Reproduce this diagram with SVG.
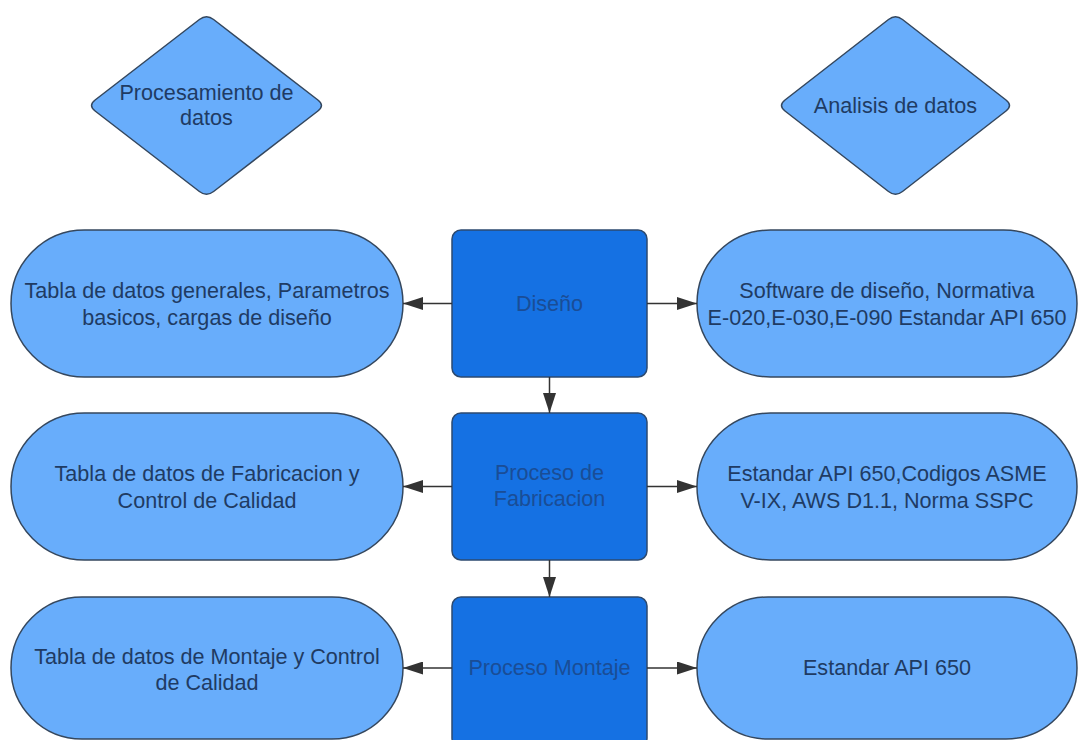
<svg xmlns="http://www.w3.org/2000/svg" width="1078" height="740" viewBox="0 0 1078 740">
  <style>
    .pill { fill: #68adfb; stroke: #34475e; stroke-width: 1.5; }
    .box { fill: #1571e3; stroke: #2c4a70; stroke-width: 1.5; }
    .dia { fill: #68adfb; stroke: #34475e; stroke-width: 1.5; }
    .t { font-family: "Liberation Sans", Arial, sans-serif; font-size: 21.6px; text-anchor: middle; fill: #1f3b63; }
    .tb { font-family: "Liberation Sans", Arial, sans-serif; font-size: 21.6px; text-anchor: middle; fill: #1a4d96; }
    .conn { stroke: #333333; stroke-width: 1.5; fill: none; marker-end: url(#arrow); }
  </style>
  <defs>
    <marker id="arrow" markerUnits="userSpaceOnUse" markerWidth="20" markerHeight="13" refX="20" refY="6.5" orient="auto">
      <path d="M0,0 L20,6.5 L0,13 Z" fill="#333333"/>
    </marker>
  </defs>
  <rect width="1078" height="740" fill="#ffffff"/>

  <!-- decision diamonds -->
  <g id="procesamiento">
    <path class="dia" d="M213.6,19.5 L317.9,100 Q325,105.5 317.9,111 L213.6,191.5 Q206.5,197 199.4,191.5 L95.1,111 Q88,105.5 95.1,100 L199.4,19.5 Q206.5,14 213.6,19.5 Z"/>
    <text class="t" x="206.5" y="100">Procesamiento de</text>
    <text class="t" x="206.5" y="125">datos</text>
  </g>
  <g id="analisis">
    <path class="dia" d="M902.5,19.5 L1006,100 Q1013,105.5 1006,111 L902.5,191.5 Q895.5,197 888.5,191.5 L785,111 Q778,105.5 785,100 L888.5,19.5 Q895.5,14 902.5,19.5 Z"/>
    <text class="t" x="895.5" y="113">Analisis de datos</text>
  </g>

  <!-- process boxes -->
  <g id="diseno">
    <rect class="box" x="452" y="230" width="195" height="147" rx="9"/>
    <text class="tb" x="549.5" y="311">Diseño</text>
  </g>
  <g id="fabricacion">
    <rect class="box" x="452" y="413" width="195" height="147" rx="9"/>
    <text class="tb" x="549.5" y="480">Proceso de</text>
    <text class="tb" x="549.5" y="506">Fabricacion</text>
  </g>
  <g id="montaje">
    <rect class="box" x="452" y="597" width="195" height="150" rx="9"/>
    <text class="tb" x="549.5" y="675">Proceso Montaje</text>
  </g>

  <!-- left data tables -->
  <g id="tabla-generales">
    <rect class="pill" x="11" y="230" width="392" height="147" rx="73.5"/>
    <text class="t" x="207" y="298">Tabla de datos generales, Parametros</text>
    <text class="t" x="207" y="325">basicos, cargas de diseño</text>
  </g>
  <g id="tabla-fabricacion">
    <rect class="pill" x="11" y="413" width="392" height="147" rx="73.5"/>
    <text class="t" x="207" y="481">Tabla de datos de Fabricacion y</text>
    <text class="t" x="207" y="508">Control de Calidad</text>
  </g>
  <g id="tabla-montaje">
    <rect class="pill" x="11" y="597" width="392" height="142" rx="71"/>
    <text class="t" x="207" y="664">Tabla de datos de Montaje y Control</text>
    <text class="t" x="207" y="690">de Calidad</text>
  </g>

  <!-- right references -->
  <g id="normas-diseno">
    <rect class="pill" x="697" y="230" width="380" height="147" rx="73.5"/>
    <text class="t" x="887" y="298">Software de diseño, Normativa</text>
    <text class="t" x="887" y="325">E-020,E-030,E-090 Estandar API 650</text>
  </g>
  <g id="normas-fabricacion">
    <rect class="pill" x="697" y="413" width="380" height="147" rx="73.5"/>
    <text class="t" x="887" y="481">Estandar API 650,Codigos ASME</text>
    <text class="t" x="887" y="508">V-IX, AWS D1.1, Norma SSPC</text>
  </g>
  <g id="normas-montaje">
    <rect class="pill" x="697" y="597" width="380" height="142" rx="71"/>
    <text class="t" x="887" y="675">Estandar API 650</text>
  </g>

  <!-- connectors -->
  <g id="connectors">
    <line class="conn" x1="452" y1="303.5" x2="403" y2="303.5"/>
    <line class="conn" x1="647" y1="303.5" x2="697" y2="303.5"/>
    <line class="conn" x1="549.5" y1="377" x2="549.5" y2="413"/>
    <line class="conn" x1="452" y1="486.5" x2="403" y2="486.5"/>
    <line class="conn" x1="647" y1="486.5" x2="697" y2="486.5"/>
    <line class="conn" x1="549.5" y1="560" x2="549.5" y2="597"/>
    <line class="conn" x1="452" y1="668" x2="403" y2="668"/>
    <line class="conn" x1="647" y1="668" x2="697" y2="668"/>
  </g>
</svg>
